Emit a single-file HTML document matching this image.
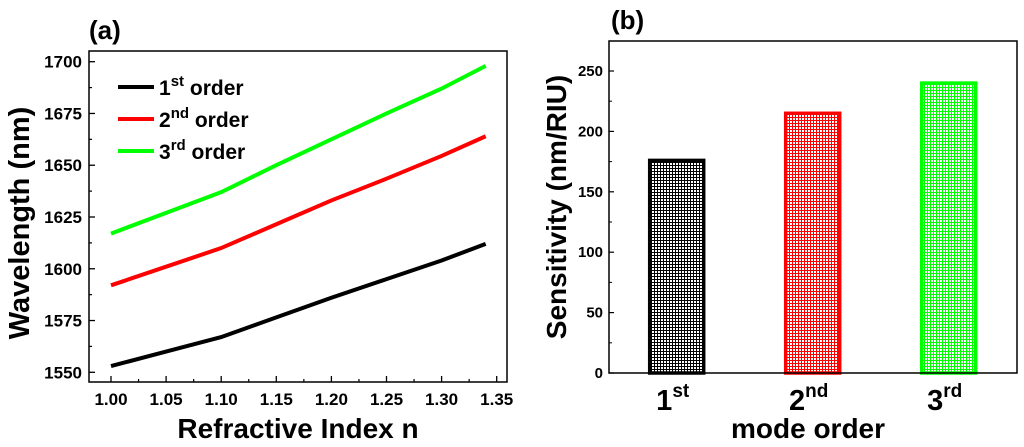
<!DOCTYPE html>
<html><head><meta charset="utf-8"><style>
body{margin:0;background:#fff;}
svg{display:block;font-family:"Liberation Sans",Arial,sans-serif;font-weight:bold;}
</style></head><body>
<svg width="1024" height="447" viewBox="0 0 1024 447">
<defs>
<pattern id="hk" width="3" height="3" patternUnits="userSpaceOnUse"><rect width="3" height="3" fill="#fff"/><path d="M0 0.5H3M0.5 0V3" stroke="#000" stroke-width="1"/></pattern>
<pattern id="hr" width="3" height="3" patternUnits="userSpaceOnUse"><rect width="3" height="3" fill="#fff"/><path d="M0 0.5H3M0.5 0V3" stroke="#f00" stroke-width="1"/></pattern>
<pattern id="hg" width="3" height="3" patternUnits="userSpaceOnUse"><rect width="3" height="3" fill="#fff"/><path d="M0 0.5H3M0.5 0V3" stroke="#0f0" stroke-width="1"/></pattern>
</defs>
<g id="pa"></g>
<g id="pb"></g>
</svg>
<script>
const xVals=[1.00,1.05,1.10,1.15,1.20,1.25,1.30,1.34];
const series1=[1553,1560,1567,1576.5,1586,1595,1604,1612];
const series2=[1592,1601,1610,1621.5,1633,1643.5,1654.5,1664];
const series3=[1617,1627,1637,1650,1662.5,1675,1687,1698];
const xTicks=["1.00","1.05","1.10","1.15","1.20","1.25","1.30","1.35"];
const yTicks=[1550,1575,1600,1625,1650,1675,1700];
const barCats=["1","2","3"];
const barSups=["st","nd","rd"];
const barVals=[176,215,240];
const barTicks=[0,50,100,150,200,250];
const NS="http://www.w3.org/2000/svg";
function mk(p,t,a,txt){const e=document.createElementNS(NS,t);for(const k in a)e.setAttribute(k,a[k]);if(txt!==undefined)e.textContent=txt;p.appendChild(e);return e;}
// panel a
const pa=document.getElementById('pa');
const ax=v=>111+(v-1.0)*(496.7-111)/0.35;
const ay=v=>372.3-(v-1550)*(372.3-61.7)/150;
let e=mk(pa,'text',{x:89,y:39,'font-size':26},'(a)');

e=mk(pa,'rect',{x:89,y:51,width:418,height:331,fill:'none',stroke:'#000','stroke-width':1.5});

xTicks.forEach((t,i)=>{const x=ax(+t);mk(pa,'line',{x1:x,x2:x,y1:382,y2:376,stroke:'#000','stroke-width':1.3});
 if(i<7)mk(pa,'line',{x1:ax(+t+0.025),x2:ax(+t+0.025),y1:382,y2:379,stroke:'#000','stroke-width':1.2});
 e=mk(pa,'text',{x:x,y:405,'font-size':17,'text-anchor':'middle'},t);
 });
yTicks.forEach((t,i)=>{const y=ay(t);mk(pa,'line',{x1:89,x2:95,y1:y,y2:y,stroke:'#000','stroke-width':1.3});
 if(i<6)mk(pa,'line',{x1:89,x2:92,y1:ay(t+12.5),y2:ay(t+12.5),stroke:'#000','stroke-width':1.2});
 e=mk(pa,'text',{x:82,y:y+6,'font-size':17,'text-anchor':'end'},t);
 });
e=mk(pa,'text',{x:298,y:438,'font-size':28,'text-anchor':'middle'},'Refractive Index  n');

e=mk(pa,'text',{x:0,y:0,'font-size':29,'text-anchor':'middle',transform:'translate(29,223) rotate(-90)'},'Wavelength (nm)');

const cols=['#000','#f00','#0f0'];const names=['1st-order','2nd-order','3rd-order'];
[series1,series2,series3].forEach((s,k)=>{
 e=mk(pa,'polyline',{points:s.map((v,i)=>ax(xVals[i])+','+ay(v)).join(' '),fill:'none',stroke:cols[k],'stroke-width':4});
 });
const sups=['st','nd','rd'];
for(let k=0;k<3;k++){const y=87+k*32;
 e=mk(pa,'line',{x1:118,x2:154,y1:y,y2:y,stroke:cols[k],'stroke-width':4});
 
 const t=mk(pa,'text',{x:159,y:y+8,'font-size':21});
 
 mk(t,'tspan',{},String(k+1));mk(t,'tspan',{dy:-9,'font-size':15},sups[k]);mk(t,'tspan',{dy:9},' order');}
// panel b
const pb=document.getElementById('pb');
const by=v=>373-v*(373-71)/250;
const bx=i=>676.7+i*136;
e=mk(pb,'text',{x:611,y:29,'font-size':26},'(b)');

barTicks.forEach((t,i)=>{const y=by(t);mk(pb,'line',{x1:609,x2:614,y1:y,y2:y,stroke:'#000','stroke-width':1.2});
 if(i<5)mk(pb,'line',{x1:609,x2:612,y1:by(t+25),y2:by(t+25),stroke:'#000','stroke-width':1});
 e=mk(pb,'text',{x:603,y:y+5,'font-size':15,'text-anchor':'end'},t);
 });
const fills=['url(#hk)','url(#hr)','url(#hg)'];
barVals.forEach((v,i)=>{const x=bx(i)-27;
 e=mk(pb,'rect',{x:x,y:by(v),width:54,height:373-by(v),fill:fills[i],stroke:cols[i],'stroke-width':3.5});
 
 const t=mk(pb,'text',{x:bx(i)-4,y:410,'font-size':29,'text-anchor':'middle'});
 
 mk(t,'tspan',{},barCats[i]);mk(t,'tspan',{dy:-13,'font-size':19},barSups[i]);});
e=mk(pb,'rect',{x:609,y:41,width:408,height:332,fill:'none',stroke:'#000','stroke-width':1.5});

e=mk(pb,'text',{x:808,y:438,'font-size':28,'text-anchor':'middle'},'mode order');

e=mk(pb,'text',{x:0,y:0,'font-size':28,'text-anchor':'middle',transform:'translate(566,207) rotate(-90)'},'Sensitivity (nm/RIU)');

</script>
</body></html>
